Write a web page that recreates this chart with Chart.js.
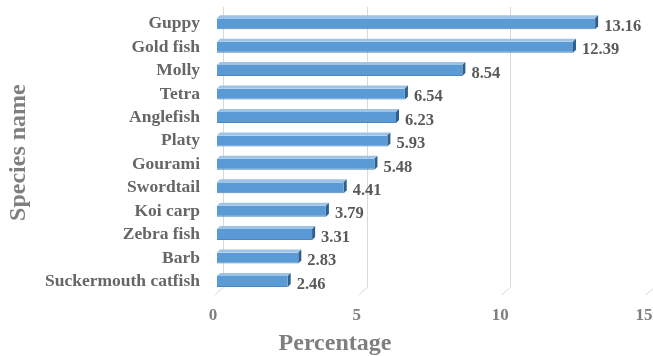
<!DOCTYPE html>
<html>
<head>
<meta charset="utf-8">
<script src="https://cdn.jsdelivr.net/npm/chart.js@4.4.0/dist/chart.umd.min.js"></script>
<style>
  html, body { margin: 0; padding: 0; background: #fff; }
  #wrap { width: 653px; height: 356px; }
</style>
</head>
<body>
<div id="wrap"><canvas id="grafico"></canvas></div>
<script>
// datos
const especies = ['Guppy', 'Gold fish', 'Molly', 'Tetra', 'Anglefish', 'Platy', 'Gourami',
  'Swordtail', 'Koi carp', 'Zebra fish', 'Barb', 'Suckermouth catfish'];
const porcentajes = [13.16, 12.39, 8.54, 6.54, 6.23, 5.93, 5.48, 4.41, 3.79, 3.31, 2.83, 2.46];
const ticksX = [0, 5, 10, 15];

const serif = '"Liberation Serif", "Times New Roman", serif';
const PROF = 3; // profundidad del efecto 3D

// rejilla con perspectiva
const rejilla3D = {
  id: 'rejilla3D',
  beforeDatasetsDraw(chart) {
    const { ctx, chartArea, scales } = chart;
    ctx.save();
    ctx.strokeStyle = '#d9d9d9';
    ctx.lineWidth = 1;
    ticksX.forEach(v => {
      const px = Math.round(scales.x.getPixelForValue(v)) + 0.5;
      ctx.beginPath();
      ctx.moveTo(px + 6, 7);
      ctx.lineTo(px + 6, chartArea.bottom - 6);
      ctx.lineTo(px - 3, chartArea.bottom + 2);
      ctx.stroke();
    });
    ctx.restore();
  }
};

// caras superior y lateral de las barras + etiquetas de valor
const barras3D = {
  id: 'barras3D',
  afterDatasetsDraw(chart) {
    const { ctx } = chart;
    const meta = chart.getDatasetMeta(0);
    ctx.save();
    meta.data.forEach((bar, i) => {
      const top = bar.y - bar.height / 2;
      const bottom = bar.y + bar.height / 2;
      const x = bar.x, base = bar.base;

      ctx.fillStyle = '#9dc3e6';
      ctx.beginPath();
      ctx.moveTo(base, top);
      ctx.lineTo(base + PROF, top - PROF);
      ctx.lineTo(x + PROF, top - PROF);
      ctx.lineTo(x, top);
      ctx.closePath();
      ctx.fill();

      ctx.fillStyle = '#2e5f8e';
      ctx.beginPath();
      ctx.moveTo(x, top);
      ctx.lineTo(x + PROF, top - PROF);
      ctx.lineTo(x + PROF, bottom - PROF);
      ctx.lineTo(x, bottom);
      ctx.closePath();
      ctx.fill();

      ctx.fillStyle = '#595959';
      ctx.font = 'bold 16.5px ' + serif;
      ctx.textAlign = 'left';
      ctx.textBaseline = 'middle';
      ctx.fillText(porcentajes[i].toFixed(2), x + 9, bar.y + 3);
    });
    ctx.restore();
  }
};

const grafico = document.getElementById('grafico').getContext('2d');

window.graficaEspecies = new Chart(grafico, {
  type: 'bar',
  data: {
    labels: especies,
    datasets: [{
      data: porcentajes,
      backgroundColor: '#5b9bd5',
      borderColor: '#4a86bf',
      borderWidth: { top: 0, bottom: 1, left: 0, right: 0 },
      borderSkipped: false,
      categoryPercentage: 1,
      barPercentage: 0.47
    }]
  },
  options: {
    indexAxis: 'y',
    responsive: true,
    maintainAspectRatio: false,
    animation: false,
    layout: { padding: { top: 12, right: 5, left: 22, bottom: 0 } },
    plugins: {
      legend: { display: false },
      tooltip: { enabled: false },
      // título del eje X centrado en todo el ancho
      title: {
        display: true,
        position: 'bottom',
        text: 'Percentage',
        color: '#7f7f7f',
        font: { family: serif, size: 24, weight: 'bold' },
        padding: { top: 6, bottom: -2 }
      }
    },
    scales: {
      x: {
        min: 0,
        max: 15,
        afterBuildTicks: scale => { scale.ticks = ticksX.map(v => ({ value: v })); },
        afterFit: scale => {
          scale.height = 30;
          scale.paddingLeft = 0;
          scale.paddingRight = 0;
        },
        grid: { display: false, drawTicks: false },
        border: { display: false },
        ticks: {
          color: '#7f7f7f',
          font: { family: serif, size: 17, weight: 'bold' },
          padding: 12,
          labelOffset: -4
        }
      },
      y: {
        afterFit: scale => {
          scale.width = 195;
          scale.paddingTop = 0;
          scale.paddingBottom = 0;
        },
        grid: { display: false, drawTicks: false },
        border: { display: false },
        ticks: {
          autoSkip: false,
          color: '#666666',
          font: { family: serif, size: 17.5, weight: 'bold' },
          padding: 17
        },
        title: {
          display: true,
          text: 'Species name',
          color: '#7f7f7f',
          font: { family: serif, size: 24, weight: 'bold' },
          padding: { top: -18, bottom: 0 }
        }
      }
    }
  },
  plugins: [rejilla3D, barras3D]
});
</script>
</body>
</html>
